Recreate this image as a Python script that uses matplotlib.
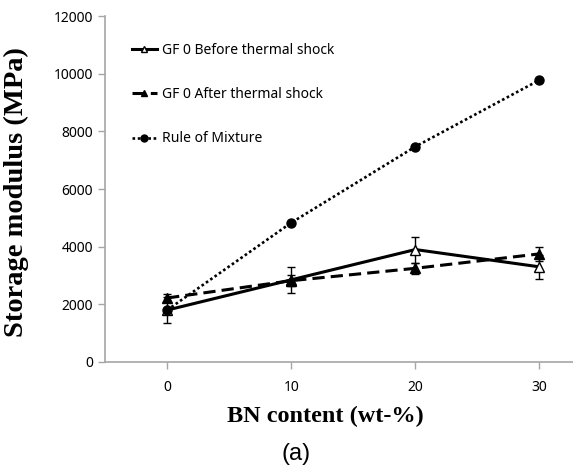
import matplotlib.pyplot as plt

bn = [0, 10, 20, 30]
before = [1800, 2850, 3900, 3300]
before_err = [450, 450, 450, 420]
after = [2220, 2820, 3250, 3750]
after_err = [150, 200, 200, 230]
mixture = [1800, 4830, 7470, 9780]

fig = plt.figure(figsize=(5.73, 4.68), dpi=100)
ax = fig.add_axes([0.1833, 0.2265, 0.8167, 0.7393])

# error bars first, lines and markers on top
ax.errorbar(bn, before, yerr=before_err, fmt='none', ecolor='black',
            elinewidth=1, capsize=3)
ax.errorbar(bn, after, yerr=after_err, fmt='none', ecolor='black',
            elinewidth=1, capsize=3)

ax.plot(bn, before, color='black', lw=2.2, marker='^', ms=7, mfc='white',
        mec='black', mew=1, label='GF 0 Before thermal shock')
ax.plot(bn, after, color='black', lw=2.2, ls=(0, (4, 2)), marker='^', ms=7,
        mfc='black', mec='black', label='GF 0 After thermal shock')
ax.plot(bn, mixture, color='black', lw=1.9, ls=(0, (1, 1.0)), marker='o',
        ms=6.5, label='Rule of Mixture')

ax.set_xlim(-5, 32.7)
ax.set_ylim(0, 12000)
ax.set_xticks(bn)
ax.set_yticks(range(0, 12001, 2000))

for s in ['top', 'right']:
    ax.spines[s].set_visible(False)
for s in ['left', 'bottom']:
    ax.spines[s].set_color('#a6a6a6')
    ax.spines[s].set_linewidth(1.2)
ax.tick_params(axis='both', colors='#a6a6a6', labelcolor='black',
               labelsize=10, length=5, width=1)
ax.tick_params(axis='x', pad=8)
for lab in ax.get_xticklabels() + ax.get_yticklabels():
    lab.set_family('Noto Sans')

ax.set_ylabel('Storage modulus (MPa)', family='Liberation Serif',
              fontweight='bold', fontsize=20.5)
ax.yaxis.set_label_coords(-0.163, 0.49)
ax.set_xlabel('BN content (wt-%)', family='Liberation Serif',
              fontweight='bold', fontsize=17.5)
ax.xaxis.set_label_coords(0.471, -0.127)

fig.text(296 / 573, 1 - 454 / 468, '(a)', family='Liberation Sans',
         fontsize=17, ha='center', va='center')

leg = ax.legend(loc='upper left', bbox_to_anchor=(0.03, 0.958), frameon=False,
                handlelength=1.8, handletextpad=0.4, labelspacing=2.1,
                prop={'family': 'Noto Sans', 'size': 10})
for h in leg.legend_handles:
    h.set_markersize(5)

fig.savefig('out.png', dpi=100)
